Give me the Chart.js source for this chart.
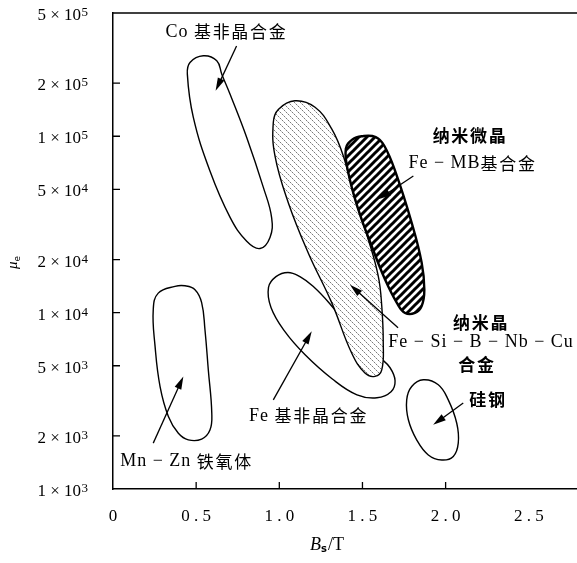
<!DOCTYPE html>
<html>
<head>
<meta charset="utf-8">
<script src="https://cdn.jsdelivr.net/npm/chart.js@4.4.1/dist/chart.umd.min.js"></script>
<style>
  html, body { margin: 0; padding: 0; background: #fff; }
</style>
</head>
<body>
<canvas id="myChart" width="577" height="563"></canvas>
<script>
// outlines of the material regions, [Bs (T), mu_e]
var coAmorph = [[0.543, 2.86e5], [0.463, 2.62e5], [0.447, 2.25e5], [0.483, 1.28e5], [0.583, 6.35e4], [0.704, 3.47e4], [0.804, 2.54e4], [0.884, 2.31e4], [0.944, 2.67e4], [0.954, 3.45e4], [0.904, 5.13e4], [0.804, 9.84e4], [0.704, 1.73e5], [0.654, 2.25e5], [0.624, 2.68e5]];
var nanoCryst = [[1.094, 1.59e5], [0.994, 1.42e5], [0.964, 1.20e5], [0.974, 7.73e4], [1.054, 4.20e4], [1.174, 2.18e4], [1.315, 1.14e4], [1.435, 5.90e3], [1.515, 4.54e3], [1.575, 4.35e3], [1.616, 4.74e3], [1.625, 6.73e3], [1.616, 1.09e4], [1.595, 1.61e4], [1.535, 2.60e4], [1.455, 4.39e4], [1.385, 7.73e4], [1.315, 1.10e5], [1.215, 1.46e5]];
var feMB = [[1.495, 1.00e5], [1.440, 9.60e4], [1.400, 8.50e4], [1.415, 6.22e4], [1.475, 3.85e4], [1.556, 2.38e4], [1.636, 1.54e4], [1.706, 1.14e4], [1.756, 9.96e3], [1.816, 9.96e3], [1.856, 1.09e4], [1.872, 1.35e4], [1.856, 1.92e4], [1.796, 3.23e4], [1.700, 6.22e4], [1.632, 8.81e4], [1.580, 9.90e4]];
var feAmorph = [[1.052, 1.69e4], [0.980, 1.60e4], [0.935, 1.39e4], [0.950, 1.07e4], [1.034, 7.80e3], [1.155, 5.77e3], [1.317, 4.22e3], [1.467, 3.42e3], [1.587, 3.29e3], [1.672, 3.56e3], [1.696, 4.11e3], [1.666, 4.87e3], [1.606, 5.55e3], [1.455, 7.50e3], [1.305, 1.12e4], [1.203, 1.41e4], [1.124, 1.60e4]];
var mnZn = [[0.373, 1.41e4], [0.272, 1.29e4], [0.242, 1.04e4], [0.253, 6.44e3], [0.283, 3.81e3], [0.333, 2.58e3], [0.393, 2.07e3], [0.453, 1.90e3], [0.533, 1.92e3], [0.583, 2.16e3], [0.594, 2.69e3], [0.573, 4.74e3], [0.553, 8.00e3], [0.533, 1.14e4], [0.493, 1.35e4], [0.433, 1.42e4]];
var siSteel = [[1.866, 4.16e3], [1.796, 3.81e3], [1.766, 3.20e3], [1.776, 2.47e3], [1.826, 1.90e3], [1.896, 1.56e3], [1.977, 1.46e3], [2.046, 1.53e3], [2.076, 1.82e3], [2.067, 2.36e3], [2.016, 3.20e3], [1.956, 3.90e3]];

// annotation arrows (tail -> head)
var arrowFrom = [[0.743, 3.25e5], [1.806, 5.95e4], [1.714, 8.22e3], [0.964, 3.20e3], [0.242, 1.82e3], [2.106, 3.07e3]];
var arrowTo = [[0.617, 1.81e5], [1.595, 4.39e4], [1.425, 1.44e4], [1.195, 7.83e3], [0.423, 4.35e3], [1.925, 2.31e3]];

// labels, centred on [x, y]
var labelText = ['Co 基非晶合金', '纳米微晶', 'Fe − MB基合金', '纳米晶', 'Fe − Si − B − Nb − Cu', '合金', '硅钢', 'Fe 基非晶合金', 'Mn − Zn 铁氧体'];
var labelX = [0.682, 2.147, 2.162, 2.213, 2.213, 2.189, 2.255, 1.176, 0.442];
var labelY = [3.90e5, 1.01e5, 7.03e4, 8.77e3, 6.76e3, 5.06e3, 3.20e3, 2.60e3, 1.44e3];
var labelBold = [false, true, false, true, false, true, true, false, false];

var xTicks = [0, 0.5, 1.0, 1.5, 2.0, 2.5];
var xTickMarks = [0.5, 1.0, 1.5, 2.0];
var yTicks = [1e3, 2e3, 5e3, 1e4, 2e4, 5e4, 1e5, 2e5, 5e5];
var yTickMarks = [2e3, 5e3, 1e4, 2e4, 5e4, 1e5, 2e5];

function makePattern(kind) {
    var s = kind === 'dots' ? 6 : 8;
    var c = document.createElement('canvas');
    c.width = s; c.height = s;
    var g = c.getContext('2d');
    g.fillStyle = '#fff';
    g.fillRect(0, 0, s, s);
    if (kind === 'dots') {
        // faint dotted "\" hatching
        for (var i = 0; i < s; i++) {
            g.fillStyle = i % 2 ? '#c4c4c4' : '#7a7a7a';
            g.fillRect(i, i, 1, 1);
        }
    } else {
        g.strokeStyle = '#000';
        g.lineWidth = 3;
        g.beginPath();
        g.moveTo(-1, s + 1); g.lineTo(s + 1, -1);
        g.moveTo(-2, 2); g.lineTo(2, -2);
        g.moveTo(s - 2, s + 2); g.lineTo(s + 2, s - 2);
        g.stroke();
    }
    return g.createPattern(c, 'repeat');
}

function toPoints(arr) {
    return arr.map(function (p) { return { x: p[0], y: p[1] }; });
}

function region(data, order, width, fillStyle) {
    return {
        data: toPoints(data),
        order: order,
        borderColor: '#000',
        borderWidth: width,
        backgroundColor: fillStyle || 'transparent',
        fill: fillStyle ? 'shape' : false,
        tension: 0.42,
        pointRadius: 0,
        pointHoverRadius: 0
    };
}

// make every outline a smooth closed curve
var closeShapes = {
    id: 'closeShapes',
    afterDatasetUpdate: function (chart, args) {
        var line = args.meta.dataset;
        if (line) {
            line._loop = true;
            line._fullLoop = true;
        }
    }
};

function setRunFont(ctx, run, bold) {
    if (/[\u4e00-\u9fff]/.test(run)) {
        ctx.font = (bold ? 'bold ' : '') + '17px "Noto Sans CJK SC"';
        ctx.letterSpacing = '1.7px';
    } else {
        ctx.font = '18px "Liberation Serif"';
        ctx.letterSpacing = '1px';
    }
}

function drawRich(ctx, text, cx, cy, bold) {
    var runs = text.match(/[\u4e00-\u9fff]+|[^\u4e00-\u9fff]+/g);
    var widths = [], total = 0;
    runs.forEach(function (r) {
        setRunFont(ctx, r, bold);
        var w = ctx.measureText(r).width;
        widths.push(w);
        total += w;
    });
    var x = cx - total / 2;
    ctx.textAlign = 'left';
    ctx.textBaseline = 'middle';
    runs.forEach(function (r, k) {
        setRunFont(ctx, r, bold);
        ctx.fillText(r, x, cy);
        x += widths[k];
    });
    ctx.letterSpacing = '0px';
}

var decor = {
    id: 'decor',
    afterDatasetsDraw: function (chart) {
        var ctx = chart.ctx, xs = chart.scales.x, ys = chart.scales.y;
        ctx.save();
        ctx.strokeStyle = '#000';
        ctx.fillStyle = '#000';
        ctx.lineWidth = 1.3;
        for (var i = 0; i < arrowFrom.length; i++) {
            var x0 = xs.getPixelForValue(arrowFrom[i][0]), y0 = ys.getPixelForValue(arrowFrom[i][1]);
            var x1 = xs.getPixelForValue(arrowTo[i][0]), y1 = ys.getPixelForValue(arrowTo[i][1]);
            var a = Math.atan2(y1 - y0, x1 - x0), L = 13, W = 3.6;
            var bx = x1 - L * Math.cos(a), by = y1 - L * Math.sin(a);
            ctx.beginPath();
            ctx.moveTo(x0, y0);
            ctx.lineTo(bx + 2 * Math.cos(a), by + 2 * Math.sin(a));
            ctx.stroke();
            ctx.beginPath();
            ctx.moveTo(x1, y1);
            ctx.lineTo(bx + W * Math.sin(a), by - W * Math.cos(a));
            ctx.lineTo(bx - W * Math.sin(a), by + W * Math.cos(a));
            ctx.closePath();
            ctx.fill();
        }
        for (var j = 0; j < labelText.length; j++) {
            drawRich(ctx, labelText[j], xs.getPixelForValue(labelX[j]), ys.getPixelForValue(labelY[j]), labelBold[j]);
        }
        ctx.restore();
    },
    afterDraw: function (chart) {
        var ctx = chart.ctx, xs = chart.scales.x, ys = chart.scales.y, ca = chart.chartArea;
        ctx.save();
        ctx.strokeStyle = '#000';
        ctx.fillStyle = '#000';
        // top frame line
        ctx.lineWidth = 1.5;
        ctx.beginPath();
        ctx.moveTo(ca.left, ca.top);
        ctx.lineTo(ca.right, ca.top);
        ctx.stroke();
        // inward tick marks
        ctx.lineWidth = 1.3;
        ctx.beginPath();
        yTickMarks.forEach(function (v) {
            var py = ys.getPixelForValue(v);
            ctx.moveTo(ca.left, py);
            ctx.lineTo(ca.left + 7, py);
        });
        xTickMarks.forEach(function (v) {
            var px = xs.getPixelForValue(v);
            ctx.moveTo(px, ca.bottom);
            ctx.lineTo(px, ca.bottom - 7);
        });
        ctx.stroke();
        // y tick labels m x 10^n
        ctx.textBaseline = 'alphabetic';
        var rx = ca.left - 25;
        yTicks.forEach(function (v) {
            var py = ys.getPixelForValue(v);
            var e = Math.floor(Math.log10(v) + 1e-9);
            var m = Math.round(v / Math.pow(10, e));
            ctx.font = '13px "Liberation Serif"';
            ctx.textAlign = 'right';
            ctx.fillText(String(e), rx, py + 3);
            var sw = ctx.measureText(String(e)).width;
            ctx.font = '17px "Liberation Serif"';
            ctx.fillText(m + ' × 10', rx - sw - 0.5, py + 7);
        });
        // y title: mu_e, rotated
        ctx.save();
        ctx.translate(17, (ca.top + ca.bottom) / 2 + 12);
        ctx.rotate(-Math.PI / 2);
        ctx.textAlign = 'left';
        ctx.font = 'italic 15px "Liberation Serif"';
        var wm = ctx.measureText('μ').width;
        ctx.fillText('μ', -6, 0);
        ctx.font = '9px "DejaVu Sans"';
        ctx.fillText('e', -6 + wm, 3);
        ctx.restore();
        // x title: B_s / T
        ctx.textAlign = 'left';
        var tx = ca.left + 197, ty = 550;
        ctx.font = 'italic 18px "Liberation Serif"';
        ctx.fillText('B', tx, ty);
        tx += ctx.measureText('B').width;
        ctx.font = 'bold 10px "DejaVu Sans"';
        ctx.fillText('s', tx, ty + 2);
        tx += ctx.measureText('s').width + 1;
        ctx.font = '18px "Liberation Serif"';
        ctx.fillText('/T', tx, ty);
        ctx.restore();
    }
};

var ctx = document.getElementById('myChart').getContext('2d');

var myChart = new Chart(ctx, {
    type: 'line',
    data: {
        datasets: [
            region(feMB, 1, 2.4, makePattern('stripes')),
            region(nanoCryst, 2, 1.4, makePattern('dots')),
            region(feAmorph, 3, 1.4),
            region(coAmorph, 4, 1.4),
            region(mnZn, 5, 1.4),
            region(siSteel, 6, 1.4)
        ]
    },
    options: {
        responsive: false,
        animation: false,
        devicePixelRatio: 1,
        layout: { padding: { top: 13, right: 0, bottom: 0, left: 0 } },
        plugins: {
            legend: { display: false },
            tooltip: { enabled: false },
            filler: { drawTime: 'beforeDatasetDraw' }
        },
        events: [],
        scales: {
            x: {
                type: 'linear',
                min: 0,
                max: 2.79,
                afterBuildTicks: function (s) { s.ticks = xTicks.map(function (v) { return { value: v }; }); },
                afterFit: function (s) { s.height = 74; },
                ticks: {
                    color: '#000',
                    font: { family: 'Liberation Serif', size: 17 },
                    padding: 17,
                    maxRotation: 0,
                    autoSkip: false,
                    callback: function (v) { return v === 0 ? '0' : Number(v).toFixed(1).split('').join(' '); }
                },
                grid: { display: false, drawTicks: false },
                border: { display: true, color: '#000', width: 1.5 }
            },
            y: {
                type: 'logarithmic',
                min: 1e3,
                max: 5e5,
                afterBuildTicks: function (s) { s.ticks = yTicks.map(function (v) { return { value: v }; }); },
                afterFit: function (s) { s.width = 113; },
                ticks: { display: false },
                grid: { display: false, drawTicks: false },
                border: { display: true, color: '#000', width: 1.5 }
            }
        }
    },
    plugins: [closeShapes, decor]
});
</script>
</body>
</html>
